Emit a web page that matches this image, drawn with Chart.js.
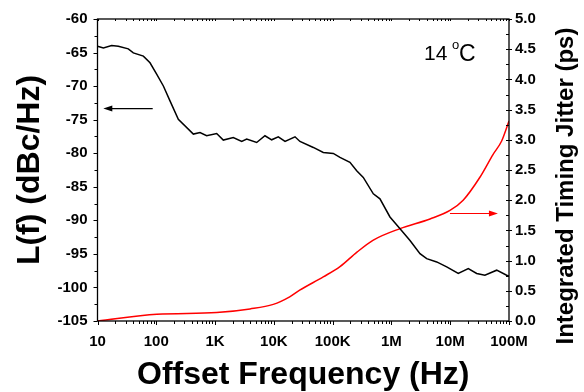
<!DOCTYPE html>
<html>
<head>
<meta charset="utf-8">
<script src="https://cdn.jsdelivr.net/npm/chart.js@4/dist/chart.umd.min.js"></script>
<style>
  html, body { margin: 0; padding: 0; background: #fff; }
  #wrap { width: 584px; height: 392px; }
</style>
</head>
<body>
<div id="wrap"><canvas id="c" width="584" height="392"></canvas></div>
<script>
// Phase noise L(f), black curve (left axis)
const noiseFreq = [10, 12.6, 17.4, 22.6, 33.4, 40.7, 60.3, 78.2, 102, 132, 171, 237,
    427, 554, 719, 1066, 1380, 2040, 2840, 3450, 5100, 7060, 9180, 11900, 15500, 22900, 27800,
    46900, 69300, 102600, 133300, 197000, 256500, 332000, 492000, 638000, 944000,
    1.4e6, 2.07e6, 3.06e6, 3.98e6, 5.89e6, 8.71e6, 1.37e7, 2.03e7, 2.82e7, 3.89e7, 6.17e7, 9.12e7, 1e8];
const noiseDbc = [-64.05, -64.3, -63.95, -64.05, -64.45, -65.05, -65.53, -66.53, -68.25, -69.98, -72.2, -74.93,
    -77.15, -76.91, -77.4, -77.06, -78.04, -77.66, -78.25, -77.89, -78.4, -77.4, -78.0, -77.55, -78.25, -77.55, -78.25,
    -79.14, -79.88, -80.03, -80.62, -81.36, -82.6, -83.6, -86.05, -86.8, -89.5,
    -91.25, -93.0, -94.96, -95.7, -96.2, -96.94, -97.92, -97.18, -97.92, -98.18, -97.43, -98.18, -98.3];

// Integrated timing jitter, red curve (right axis)
const jitterFreq = [10, 102, 1064, 3930, 9770, 18600, 27500, 69200, 133300, 259000, 492000,
    1.4e6, 4.53e6, 9.9e6, 1.66e7, 3.2e7, 5.37e7, 7.5e7, 1e8];
const jitterPs = [0.0, 0.11, 0.14, 0.2, 0.275, 0.40, 0.51, 0.73, 0.9, 1.14, 1.34,
    1.53, 1.69, 1.83, 2.0, 2.38, 2.76, 2.98, 3.31];

// Axis ticks
const freqTicks = [10, 100, 1e3, 1e4, 1e5, 1e6, 1e7, 1e8];
const freqLabels = ['10', '100', '1K', '10K', '100K', '1M', '10M', '100M'];

// Arrows pointing to the axes: [tail x, tail y, tip x, tip y]
const arrowNoise = [86.9, -73.35, 12.55, -73.35];
const arrowJitter = [9.9e6, 1.78, 6.49e7, 1.78];

const FONT = '"Liberation Sans", Arial, sans-serif';
Chart.defaults.font.family = FONT;
Chart.defaults.color = '#000';

// рамка, риски, стрелки и подписи
const decorPlugin = {
    id: 'decor',
    afterDatasetsDraw(chart) {
        const { ctx, chartArea: a, scales } = chart;
        const x = scales.x, y = scales.y, y2 = scales.y2;
        ctx.save();
        ctx.strokeStyle = '#000';
        ctx.lineWidth = 1.3;
        ctx.strokeRect(a.left, a.top, a.right - a.left, a.bottom - a.top);

        ctx.lineWidth = 1;
        ctx.beginPath();
        // log x ticks
        for (let d = 10; d <= 1e8; d *= 10) {
            for (let m = 1; m <= 9; m++) {
                const v = d * m;
                if (v > 1e8) break;
                const px = Math.round(x.getPixelForValue(v)) + 0.5;
                const len = m === 1 ? 4 : 3;
                ctx.moveTo(px, a.bottom); ctx.lineTo(px, a.bottom + len);
                ctx.moveTo(px, a.top); ctx.lineTo(px, a.top + 2);
            }
        }
        // left ticks
        for (let v = -105; v <= -60; v += 2.5) {
            const py = Math.round(y.getPixelForValue(v)) + 0.5;
            const len = v % 5 === 0 ? 4 : 3;
            ctx.moveTo(a.left - len, py); ctx.lineTo(a.left, py);
        }
        // right ticks
        for (let i = 0; i <= 20; i++) {
            const v = i * 0.25;
            const py = Math.round(y2.getPixelForValue(v)) + 0.5;
            if (i % 2 === 0) { ctx.moveTo(a.right - 3, py); ctx.lineTo(a.right + 3, py); }
            else { ctx.moveTo(a.right - 3, py); ctx.lineTo(a.right, py); }
        }
        ctx.stroke();

        const drawArrow = (arr, sy, color) => {
            const x0 = x.getPixelForValue(arr[0]), y0 = sy.getPixelForValue(arr[1]);
            const x1 = x.getPixelForValue(arr[2]), y1 = sy.getPixelForValue(arr[3]);
            const dir = Math.sign(x1 - x0);
            ctx.strokeStyle = color; ctx.fillStyle = color; ctx.lineWidth = 1.2;
            ctx.beginPath(); ctx.moveTo(x0, y0); ctx.lineTo(x1 - dir * 6, y1); ctx.stroke();
            ctx.beginPath();
            ctx.moveTo(x1, y1); ctx.lineTo(x1 - dir * 9, y1 - 3); ctx.lineTo(x1 - dir * 9, y1 + 3);
            ctx.closePath(); ctx.fill();
        };
        drawArrow(arrowNoise, y, '#000');
        drawArrow(arrowJitter, y2, '#ff0000');

        // 14 °C
        ctx.fillStyle = '#000';
        ctx.textBaseline = 'alphabetic';
        ctx.textAlign = 'left';
        ctx.font = '21px ' + FONT;
        const tx = 424, ty = a.top + 41;
        ctx.fillText('14', tx, ty);
        ctx.font = '13px ' + FONT;
        ctx.fillText('o', tx + 28, ty - 11);
        ctx.font = '23px ' + FONT;
        ctx.fillText('C', tx + 35, ty + 0.5);

        // right axis title, reads bottom-to-top
        ctx.font = 'bold 24px ' + FONT;
        ctx.textAlign = 'center';
        ctx.textBaseline = 'middle';
        ctx.translate(566, (a.top + a.bottom) / 2 + 16);
        ctx.rotate(-Math.PI / 2);
        ctx.fillText('Integrated Timing Jitter (ps)', 0, 0);
        ctx.restore();
    }
};

new Chart(document.getElementById('c'), {
    type: 'line',
    data: {
        datasets: [{
            label: 'L(f)',
            data: noiseFreq.map((f, i) => ({ x: f, y: noiseDbc[i] })),
            borderColor: '#000',
            borderWidth: 1.5,
            pointRadius: 0,
            tension: 0,
            yAxisID: 'y'
        }, {
            label: 'Jitter',
            data: jitterFreq.map((f, i) => ({ x: f, y: jitterPs[i] })),
            borderColor: '#ff0000',
            borderWidth: 1.5,
            pointRadius: 0,
            cubicInterpolationMode: 'monotone',
            yAxisID: 'y2'
        }]
    },
    options: {
        responsive: false,
        animation: false,
        devicePixelRatio: 1,
        layout: { padding: { top: 18, left: 0, right: 0, bottom: 0 } },
        plugins: { legend: { display: false }, tooltip: { enabled: false } },
        scales: {
            x: {
                type: 'logarithmic',
                min: 10, max: 1e8,
                afterBuildTicks: s => { s.ticks = freqTicks.map(v => ({ value: v })); },
                afterFit: s => { s.height = 71; },
                grid: { display: false, drawTicks: false },
                border: { display: false },
                ticks: {
                    autoSkip: false, maxRotation: 0, padding: 12,
                    font: { size: 15, weight: 'bold' },
                    callback: (v, i) => freqLabels[i]
                },
                title: {
                    display: true, text: 'Offset Frequency (Hz)',
                    font: { size: 32, weight: 'bold', lineHeight: 1 },
                    padding: { top: 0, bottom: 1 }
                }
            },
            y: {
                position: 'left',
                min: -105, max: -60,
                afterFit: s => { s.width = 97.5; },
                grid: { display: false, drawTicks: false },
                border: { display: false },
                ticks: { stepSize: 5, padding: 10, font: { size: 15, weight: 'bold' } },
                title: {
                    display: true, text: 'L(f) (dBc/Hz)',
                    font: { size: 32, weight: 'bold', lineHeight: 1 },
                    padding: { top: 14, bottom: 0 }
                }
            },
            y2: {
                position: 'right',
                min: 0, max: 5,
                afterFit: s => { s.width = 75; },
                grid: { display: false, drawTicks: false },
                border: { display: false },
                ticks: {
                    stepSize: 0.5, padding: 6, font: { size: 15, weight: 'bold' },
                    callback: v => v.toFixed(1)
                }
            }
        }
    },
    plugins: [decorPlugin]
});
</script>
</body>
</html>
